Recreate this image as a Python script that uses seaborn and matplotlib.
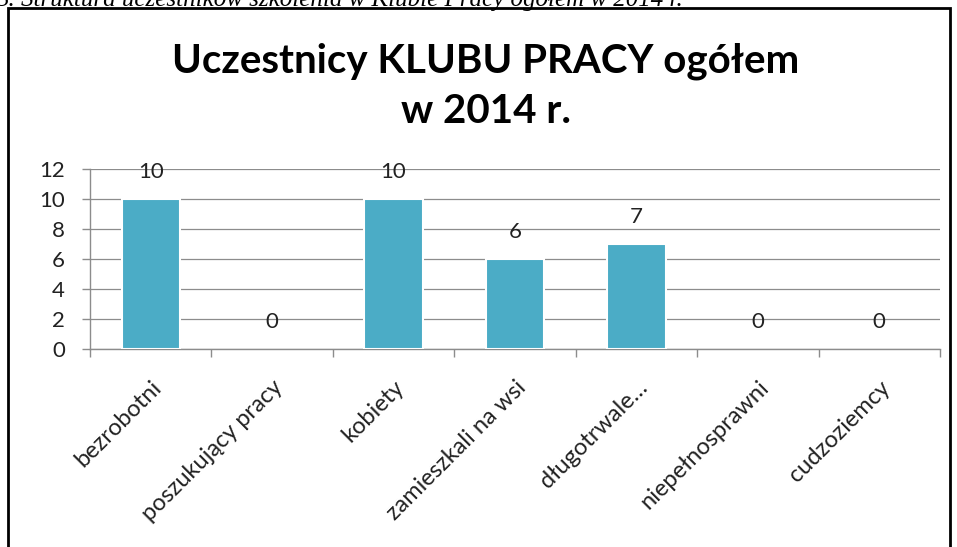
import matplotlib
matplotlib.use("Agg")
import matplotlib.pyplot as plt
import seaborn as sns
import pandas as pd
from matplotlib.patches import Rectangle

categories = ["bezrobotni", "poszukujący pracy", "kobiety", "zamieszkali na wsi",
              "długotrwale…", "niepełnosprawni", "cudzoziemcy"]
values = [10, 0, 10, 6, 7, 0, 0]
title = "Uczestnicy KLUBU PRACY ogółem\nw 2014 r."
caption = "3. Struktura uczestników szkolenia w Klubie Pracy ogółem w 2014 r."

df = pd.DataFrame({"cat": categories, "val": values})

sns.set_theme(style="white")
plt.rcParams['font.family'] = ['Lato', 'DejaVu Sans']

fig = plt.figure(figsize=(9.57, 5.47), dpi=100)
W, H = 957, 547
ax = fig.add_axes([90 / W, 1 - 349 / H, (940 - 90) / W, (349 - 169) / H])

sns.barplot(data=df, x="cat", y="val", color="#4BACC6", width=0.48,
            edgecolor="white", linewidth=1.5, saturation=1, ax=ax, zorder=3)
for p in ax.patches:
    if p.get_height() == 0:
        p.set_edgecolor("none")

ax.set_xlim(-0.5, len(categories) - 0.5)
ax.set_ylim(0, 12)
ax.set_yticks(range(0, 13, 2))
ax.yaxis.grid(True, color="#8c8c8c", linewidth=0.9, zorder=0)
ax.set_axisbelow(True)
for s in ["top", "right"]:
    ax.spines[s].set_visible(False)
for s in ["left", "bottom"]:
    ax.spines[s].set_color("#8c8c8c")
    ax.spines[s].set_linewidth(1)
ax.set_xlabel("")
ax.set_ylabel("")

ax.set_xticks([i - 0.5 for i in range(len(categories) + 1)], minor=True)
ax.set_xticks(range(len(categories)))
ax.set_xticklabels(categories, rotation=45, ha="right", rotation_mode="anchor",
                   fontsize=17, color="#222222")
ax.tick_params(axis="x", which="major", length=0, pad=20)
ax.tick_params(axis="x", which="minor", length=6, color="#8c8c8c", width=1,
               direction="out", bottom=True)
ax.tick_params(axis="y", length=6, color="#8c8c8c", width=1, direction="out",
               left=True, labelsize=16, labelcolor="#222222", pad=12)

for i, v in enumerate(values):
    ax.annotate(str(v), (i, v), xytext=(0, 12), textcoords="offset points",
                ha="center", va="bottom", fontsize=16, color="#222222")

fig.text(486 / W, 1 - 86 / H, title, ha="center", va="center",
         fontsize=29, fontweight="bold", linespacing=1.45, color="black")

fig.text(-4 / W, 1.0, caption, ha="left", va="center", fontsize=18,
         family=["Liberation Serif", "DejaVu Serif"], style="italic", color="black")

fig.patches.append(Rectangle((8 / W, -0.05), (950 - 8) / W, (1 - 8 / H) + 0.05,
                             transform=fig.transFigure, fill=False,
                             edgecolor="black", linewidth=2))

fig.savefig("out.png", dpi=100)
